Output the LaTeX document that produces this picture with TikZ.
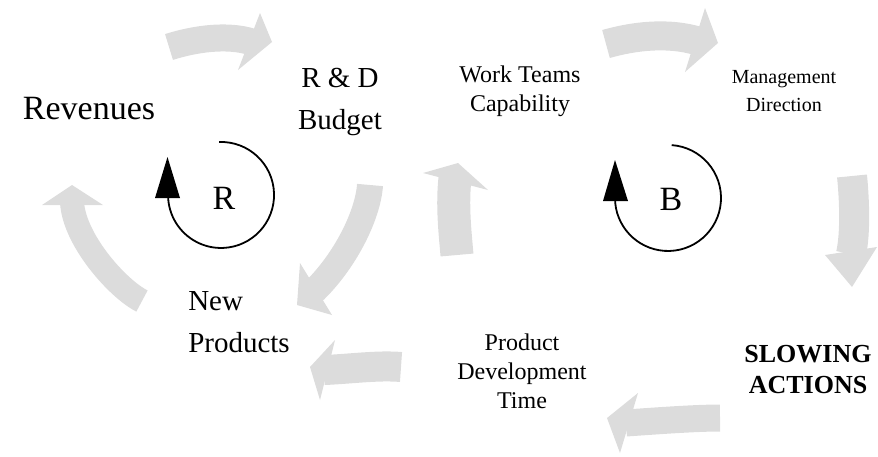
\documentclass[tikz,border=0pt]{standalone}
\usepackage{fontspec}
\setmainfont{Liberation Serif}
\definecolor{flowgray}{RGB}{220,220,220}
% broad gray flow arrow: tail, two controls, shaft end, two barbs, tip, shaft width
\newcommand\flowarrow[8]{%
  \draw[flowgray, line width=#8, line cap=butt] #1 .. controls #2 and #3 .. #4;
  \fill[flowgray] #5 -- #7 -- #6 -- cycle;
}
\begin{document}
\begin{tikzpicture}[x=1pt, y=-1pt,
  bigtxt/.style={font=\fontsize{29}{42}\selectfont, align=center, inner sep=0pt},
  midtxt/.style={font=\fontsize{24}{29}\selectfont, align=center, inner sep=0pt},
  looptxt/.style={font=\fontsize{34}{40}\selectfont, inner sep=0pt},
  loopline/.style={line width=1.8pt, black}]
\useasboundingbox (0,0) rectangle (878,456);

% outer gray flow arrows of the two loops
\flowarrow{(169,47)}{(194,39)}{(227,34)}{(252,42)}{(260,13)}{(238,70)}{(272,42)}{27pt}
\flowarrow{(606,44)}{(634,36)}{(668,32)}{(698,41)}{(705,8)}{(685,72)}{(718,43)}{29pt}
\flowarrow{(852,176)}{(854,195)}{(856,232)}{(851,254)}{(825,255)}{(877,247)}{(852,287)}{30pt}
\flowarrow{(720,418)}{(695,418)}{(655,421)}{(626,423)}{(638,393)}{(620,453)}{(607,418)}{27pt}
\flowarrow{(401,367)}{(378,365)}{(350,369)}{(324,370)}{(335,340)}{(320,400)}{(310,367)}{30pt}
\flowarrow{(457,255)}{(455,232)}{(452,205)}{(455,178)}{(423,173)}{(488,190)}{(458,163)}{33pt}
\flowarrow{(370,185)}{(368,215)}{(345,262)}{(312,293)}{(300,263)}{(332,315)}{(297,305)}{26pt}
\flowarrow{(142,301)}{(118,289)}{(74,240)}{(72,202)}{(42,205)}{(103,205)}{(72,185)}{24pt}

% reinforcing loop marker
\draw[loopline] (219.2,142.0) arc[start angle=92, end angle=-180, radius=53pt];
\fill (155,198) -- (180,198) -- (167.5,157) -- cycle;
\node[looptxt] (R) at (224,198) {R};

% balancing loop marker
\draw[loopline] (671.7,145.1) arc[start angle=86, end angle=-180, radius=53pt];
\fill (603,201) -- (628,201) -- (615,160) -- cycle;
\node[looptxt] (B) at (671,199) {B};

% variable labels
\node[font=\fontsize{34}{40}\selectfont, inner sep=0pt] (rev) at (89,109) {Revenues};
\node[bigtxt] (rd) at (340,102) {R \& D\\Budget};
\node[bigtxt, align=left] (np) at (239,322) {New\\Products};
\node[midtxt] (wt) at (520,91) {Work Teams\\Capability};
\node[midtxt, font=\fontsize{20}{28}\selectfont] (md) at (784,91) {Management\\Direction};
\node[midtxt] (pd) at (522,371) {Product\\Development\\Time};
\node[midtxt, font=\fontsize{26}{31}\bfseries\selectfont] (sa) at (808,370) {SLOWING\\ACTIONS};
\end{tikzpicture}
\end{document}
